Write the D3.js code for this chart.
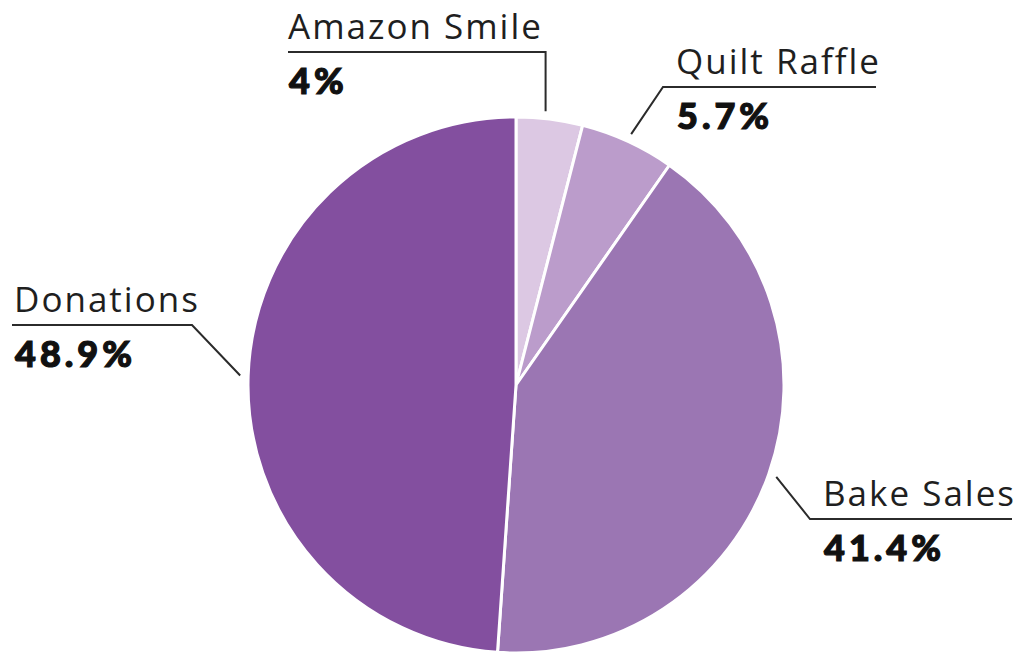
<!DOCTYPE html>
<html>
<head>
<meta charset="utf-8">
<script src="https://cdn.jsdelivr.net/npm/d3@7"></script>
<style>
  body { margin: 0; background: #fff; }
  svg { display: block; }
</style>
</head>
<body>
<svg width="1020" height="656"></svg>
<script>
// data
const categories = ["Amazon Smile", "Quilt Raffle", "Bake Sales", "Donations"];
const shares = [4, 5.7, 41.4, 48.9];
const pctLabels = ["4%", "5.7%", "41.4%", "48.9%"];
const colors = ["#dcc8e3", "#bb9ccb", "#9b76b3", "#834f9f"];

// label layout: elbow y, line from x1 to x2, text x
const labelLayout = [
  { elbowY: 52, x1: 288, x2: null, textX: 288, side: "left" },
  { elbowY: 87, x1: 663, x2: 876, textX: 676, side: "right" },
  { elbowY: 519, x1: 810, x2: 1012, textX: 823, side: "right" },
  { elbowY: 325, x1: 12, x2: 192, textX: 14, side: "left" },
];

const svg = d3.select("svg"),
  cx = 516,
  cy = 385,
  radius = 268;

const g = svg.append("g").attr("transform", `translate(${cx}, ${cy})`);

const pie = d3.pie().sort(null).value((d) => d);
const arcs = pie(shares);
const arc = d3.arc().innerRadius(0).outerRadius(radius);

g.selectAll("path.slice")
  .data(arcs)
  .enter()
  .append("path")
  .attr("class", "slice")
  .attr("d", arc)
  .attr("fill", (d, i) => colors[i])
  .attr("stroke", "#fff")
  .attr("stroke-width", 3)
  .attr("stroke-linejoin", "round");

// leader lines + labels
const outer = radius + 8;
arcs.forEach((a, i) => {
  const L = labelLayout[i];
  const mid = (a.startAngle + a.endAngle) / 2;
  let sx = cx + Math.sin(mid) * outer;
  const sy = cy - Math.cos(mid) * outer;
  if (i === 0) sx -= 5;
  let pts;
  if (L.side === "left") {
    const ex = L.x2 === null ? sx : L.x2;
    pts = [[sx, sy], [ex, L.elbowY], [L.x1, L.elbowY]];
  } else {
    pts = [[sx, sy], [L.x1, L.elbowY], [L.x2, L.elbowY]];
  }
  svg.append("path")
    .attr("d", d3.line()(pts))
    .attr("fill", "none")
    .attr("stroke", "#2b2b2b")
    .attr("stroke-width", 2);

  svg.append("text")
    .attr("x", L.textX)
    .attr("y", L.elbowY - 13)
    .attr("font-family", "'Open Sans', sans-serif")
    .attr("font-size", 35)
    .attr("font-weight", 400)
    .attr("letter-spacing", 2)
    .attr("fill", "#1f1f1f")
    .text(categories[i]);

  svg.append("text")
    .attr("x", L.textX + 1)
    .attr("y", L.elbowY + 42)
    .attr("font-family", "Lato, sans-serif")
    .attr("font-size", 36)
    .attr("font-weight", 900)
    .attr("letter-spacing", 4)
    .attr("fill", "#111")
    .attr("stroke", "#111")
    .attr("stroke-width", 1.2)
    .text(pctLabels[i]);
});
</script>
</body>
</html>
